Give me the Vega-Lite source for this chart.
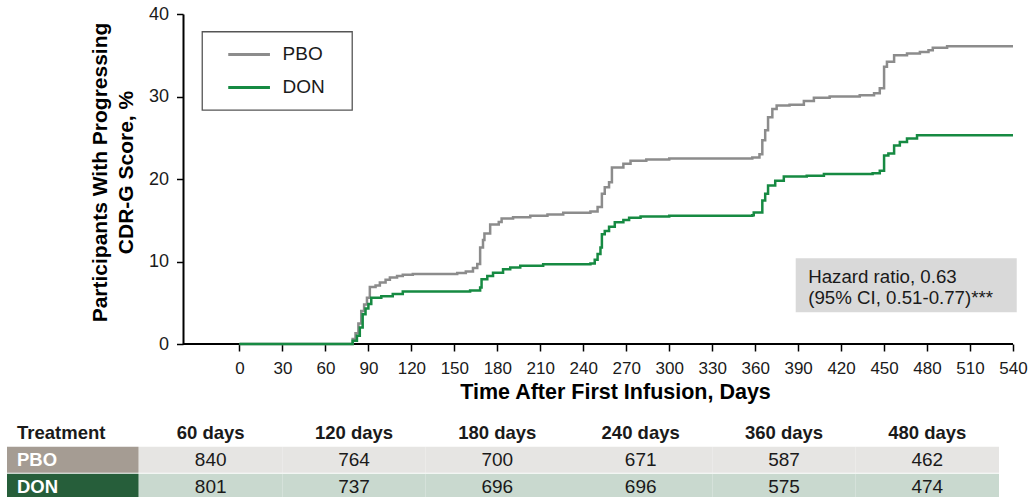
{
  "$schema": "https://vega.github.io/schema/vega-lite/v6.json",
  "padding": {"left": 7, "top": 5, "right": 0, "bottom": 0},
  "config": {"font": "Liberation Sans", "view": {"stroke": null}},
  "datasets": {
    "km": [
      {"group":"PBO","day":0,"pct":0},{"group":"PBO","day":77,"pct":0},{"group":"PBO","day":79,"pct":0.6},{"group":"PBO","day":81,"pct":1.3},{"group":"PBO","day":83,"pct":2.5},{"group":"PBO","day":85,"pct":4.0},{"group":"PBO","day":87,"pct":4.8},{"group":"PBO","day":89,"pct":5.6},{"group":"PBO","day":91,"pct":6.9},{"group":"PBO","day":95,"pct":7.1},{"group":"PBO","day":98,"pct":7.45},{"group":"PBO","day":102,"pct":7.8},{"group":"PBO","day":105,"pct":8.05},{"group":"PBO","day":110,"pct":8.25},{"group":"PBO","day":114,"pct":8.4},{"group":"PBO","day":121,"pct":8.5},{"group":"PBO","day":152,"pct":8.6},{"group":"PBO","day":158,"pct":8.8},{"group":"PBO","day":163,"pct":9.2},{"group":"PBO","day":166,"pct":9.7},{"group":"PBO","day":168,"pct":11.7},{"group":"PBO","day":170,"pct":12.6},{"group":"PBO","day":171,"pct":13.4},{"group":"PBO","day":175,"pct":14.5},{"group":"PBO","day":181,"pct":14.8},{"group":"PBO","day":183,"pct":15.2},{"group":"PBO","day":191,"pct":15.35},{"group":"PBO","day":203,"pct":15.55},{"group":"PBO","day":215,"pct":15.7},{"group":"PBO","day":226,"pct":15.9},{"group":"PBO","day":245,"pct":16.05},{"group":"PBO","day":250,"pct":16.6},{"group":"PBO","day":253,"pct":18.2},{"group":"PBO","day":255,"pct":19.0},{"group":"PBO","day":258,"pct":19.6},{"group":"PBO","day":260,"pct":21.4},{"group":"PBO","day":268,"pct":21.85},{"group":"PBO","day":273,"pct":22.2},{"group":"PBO","day":284,"pct":22.35},{"group":"PBO","day":300,"pct":22.5},{"group":"PBO","day":358,"pct":22.6},{"group":"PBO","day":363,"pct":23.0},{"group":"PBO","day":365,"pct":24.7},{"group":"PBO","day":367,"pct":25.9},{"group":"PBO","day":369,"pct":27.5},{"group":"PBO","day":372,"pct":28.5},{"group":"PBO","day":375,"pct":28.9},{"group":"PBO","day":384,"pct":29.0},{"group":"PBO","day":394,"pct":29.45},{"group":"PBO","day":401,"pct":29.85},{"group":"PBO","day":412,"pct":30.0},{"group":"PBO","day":433,"pct":30.15},{"group":"PBO","day":443,"pct":30.4},{"group":"PBO","day":447,"pct":31.0},{"group":"PBO","day":450,"pct":33.6},{"group":"PBO","day":452,"pct":34.2},{"group":"PBO","day":457,"pct":35.0},{"group":"PBO","day":466,"pct":35.2},{"group":"PBO","day":475,"pct":35.4},{"group":"PBO","day":481,"pct":35.6},{"group":"PBO","day":484,"pct":35.9},{"group":"PBO","day":494,"pct":36.1},{"group":"PBO","day":540,"pct":36.1},
      {"group":"DON","day":0,"pct":0},{"group":"DON","day":77,"pct":0},{"group":"DON","day":79,"pct":0.4},{"group":"DON","day":82,"pct":1.0},{"group":"DON","day":84,"pct":2.0},{"group":"DON","day":86,"pct":3.6},{"group":"DON","day":88,"pct":4.3},{"group":"DON","day":90,"pct":4.85},{"group":"DON","day":92,"pct":5.6},{"group":"DON","day":99,"pct":5.8},{"group":"DON","day":107,"pct":6.05},{"group":"DON","day":114,"pct":6.35},{"group":"DON","day":161,"pct":6.5},{"group":"DON","day":168,"pct":6.85},{"group":"DON","day":169,"pct":7.85},{"group":"DON","day":173,"pct":8.25},{"group":"DON","day":177,"pct":8.65},{"group":"DON","day":184,"pct":9.05},{"group":"DON","day":189,"pct":9.28},{"group":"DON","day":196,"pct":9.48},{"group":"DON","day":212,"pct":9.68},{"group":"DON","day":245,"pct":9.76},{"group":"DON","day":248,"pct":10.2},{"group":"DON","day":250,"pct":10.9},{"group":"DON","day":252,"pct":11.7},{"group":"DON","day":253,"pct":13.3},{"group":"DON","day":255,"pct":13.7},{"group":"DON","day":258,"pct":14.2},{"group":"DON","day":262,"pct":14.75},{"group":"DON","day":268,"pct":15.03},{"group":"DON","day":272,"pct":15.3},{"group":"DON","day":280,"pct":15.44},{"group":"DON","day":300,"pct":15.56},{"group":"DON","day":358,"pct":15.6},{"group":"DON","day":359,"pct":15.95},{"group":"DON","day":365,"pct":17.4},{"group":"DON","day":367,"pct":18.2},{"group":"DON","day":369,"pct":19.2},{"group":"DON","day":374,"pct":19.8},{"group":"DON","day":380,"pct":20.3},{"group":"DON","day":396,"pct":20.4},{"group":"DON","day":408,"pct":20.6},{"group":"DON","day":442,"pct":20.7},{"group":"DON","day":447,"pct":21.0},{"group":"DON","day":450,"pct":22.85},{"group":"DON","day":453,"pct":23.1},{"group":"DON","day":457,"pct":24.05},{"group":"DON","day":461,"pct":24.5},{"group":"DON","day":466,"pct":24.9},{"group":"DON","day":473,"pct":25.3},{"group":"DON","day":540,"pct":25.3}
    ],
    "atrisk": [
      {"treatment":"PBO","day":"60 days","n":840},{"treatment":"PBO","day":"120 days","n":764},{"treatment":"PBO","day":"180 days","n":700},{"treatment":"PBO","day":"240 days","n":671},{"treatment":"PBO","day":"360 days","n":587},{"treatment":"PBO","day":"480 days","n":462},
      {"treatment":"DON","day":"60 days","n":801},{"treatment":"DON","day":"120 days","n":737},{"treatment":"DON","day":"180 days","n":696},{"treatment":"DON","day":"240 days","n":696},{"treatment":"DON","day":"360 days","n":575},{"treatment":"DON","day":"480 days","n":474}
    ]
  },
  "spacing": 17,
  "resolve": {"scale": {"color": "independent"}, "legend": {"color": "independent"}},
  "vconcat": [
    {
      "width": 1006,
      "height": 330,
      "layer": [
        {
          "data": {"values": [{}]},
          "mark": {"type": "rule", "color": "black", "strokeWidth": 2},
          "encoding": {
            "x": {"datum": -39.5, "type": "quantitative"},
            "x2": {"datum": 540},
            "y": {"datum": 0, "type": "quantitative"}
          }
        },
        {
          "data": {"values": [{}]},
          "mark": {"type": "rect", "fill": "white", "stroke": "#555555", "strokeWidth": 1.3},
          "encoding": {
            "x": {"datum": -26, "type": "quantitative"},
            "x2": {"datum": 78.7},
            "y": {"datum": 37.85, "type": "quantitative"},
            "y2": {"datum": 28.36}
          }
        },
        {
          "data": {"name": "km"},
          "mark": {"type": "line", "interpolate": "step-after", "strokeWidth": 2.5},
          "encoding": {
            "x": {
              "field": "day", "type": "quantitative",
              "scale": {"domain": [-162.3, 540], "nice": false, "zero": false},
              "axis": {
                "values": [0,30,60,90,120,150,180,210,240,270,300,330,360,390,420,450,480,510,540],
                "domain": false, "grid": false,
                "tickSize": 7, "tickWidth": 1.5, "tickColor": "black",
                "labelFontSize": 17, "labelPadding": 9, "labelColor": "#1a1a1a", "labelFlush": false,
                "title": "Time After First Infusion, Days",
                "titleFontSize": 21.5, "titleFontWeight": "bold", "titleColor": "black",
                "titlePadding": 5, "titleX": 608
              }
            },
            "y": {
              "field": "pct", "type": "quantitative",
              "scale": {"domain": [0, 40], "nice": false},
              "axis": {
                "values": [0,10,20,30,40],
                "offset": -176, "grid": false,
                "domainColor": "black", "domainWidth": 2,
                "tickSize": 6.5, "tickWidth": 1.5, "tickColor": "black",
                "labelFontSize": 18, "labelPadding": 8, "labelColor": "#1a1a1a",
                "title": ["Participants With Progressing", "CDR-G Score, %"],
                "titleFontSize": 21, "titleFontWeight": "bold", "titleColor": "black",
                "titleLineHeight": 25.5, "titlePadding": 12, "titleY": 158
              }
            },
            "color": {
              "field": "group", "type": "nominal",
              "scale": {"domain": ["PBO", "DON"], "range": ["#8c8c8c", "#168a42"]},
              "legend": {
                "orient": "none", "legendX": 195.3, "legendY": 15.4, "title": null,
                "strokeColor": null, "fillColor": null, "padding": 2.5,
                "symbolType": "stroke", "symbolSize": 1740, "symbolStrokeWidth": 3,
                "symbolOffset": 21.8, "labelOffset": 11, "rowPadding": -13.3,
                "labelFontSize": 19, "labelColor": "#1a1a1a"
              }
            }
          }
        },
        {
          "data": {"values": [{}]},
          "mark": {"type": "rect", "color": "#d9d9d9"},
          "encoding": {
            "x": {"datum": 388.3, "type": "quantitative"},
            "x2": {"datum": 542.6},
            "y": {"datum": 10.39, "type": "quantitative"},
            "y2": {"datum": 3.84}
          }
        },
        {
          "data": {"values": [{}]},
          "mark": {"type": "text", "align": "left", "baseline": "alphabetic", "fontSize": 18.7, "lineHeight": 21, "color": "#1a1a1a",
                   "text": ["Hazard ratio, 0.63", "(95% CI, 0.51-0.77)***"]},
          "encoding": {
            "x": {"datum": 397, "type": "quantitative"},
            "y": {"datum": 7.36, "type": "quantitative"}
          }
        }
      ]
    },
    {
      "hconcat": [
        {
          "width": 131.6,
          "height": 79.5,
          "data": {"values": [{"treatment": "PBO"}, {"treatment": "DON"}]},
          "encoding": {
            "y": {"field": "treatment", "type": "nominal",
                  "scale": {"domain": ["header", "PBO", "DON"], "paddingInner": 0.04, "paddingOuter": 0},
                  "axis": null}
          },
          "layer": [
            {
              "mark": {"type": "rect"},
              "encoding": {
                "color": {"field": "treatment", "type": "nominal",
                          "scale": {"domain": ["PBO", "DON"], "range": ["#a59c93", "#265e3a"]},
                          "legend": null}
              }
            },
            {
              "mark": {"type": "text", "align": "left", "dx": 10, "fontSize": 18.5, "fontWeight": "bold", "color": "white"},
              "encoding": {
                "x": {"datum": 0, "type": "quantitative", "scale": {"domain": [0, 1]}, "axis": null},
                "text": {"field": "treatment"}
              }
            },
            {
              "transform": [{"filter": "datum.treatment === 'PBO'"}],
              "mark": {"type": "text", "align": "left", "dx": 10, "fontSize": 18.5, "fontWeight": "bold", "color": "#1a1a1a", "text": "Treatment"},
              "encoding": {
                "x": {"datum": 0, "type": "quantitative"},
                "y": {"datum": "header", "type": "nominal"}
              }
            }
          ]
        },
        {
          "width": 860,
          "height": 79.5,
          "data": {"name": "atrisk"},
          "encoding": {
            "x": {"field": "day", "type": "nominal",
                  "scale": {"domain": ["60 days","120 days","180 days","240 days","360 days","480 days"], "paddingInner": 0, "paddingOuter": 0},
                  "axis": null},
            "y": {"field": "treatment", "type": "nominal",
                  "scale": {"domain": ["header", "PBO", "DON"], "paddingInner": 0.04, "paddingOuter": 0},
                  "axis": null}
          },
          "layer": [
            {
              "mark": {"type": "rect"},
              "encoding": {
                "color": {"field": "treatment", "type": "nominal",
                          "scale": {"domain": ["PBO", "DON"], "range": ["#e6e5e3", "#c9d9cf"]},
                          "legend": null}
              }
            },
            {
              "mark": {"type": "text", "fontSize": 19, "color": "#1a1a1a"},
              "encoding": {"text": {"field": "n", "type": "quantitative"}}
            },
            {
              "transform": [{"filter": "datum.treatment === 'PBO'"}],
              "mark": {"type": "text", "fontSize": 18.5, "fontWeight": "bold", "color": "#1a1a1a"},
              "encoding": {
                "y": {"datum": "header", "type": "nominal"},
                "text": {"field": "day"}
              }
            }
          ]
        }
      ],
      "spacing": 0,
      "resolve": {"scale": {"color": "independent"}}
    }
  ]
}
